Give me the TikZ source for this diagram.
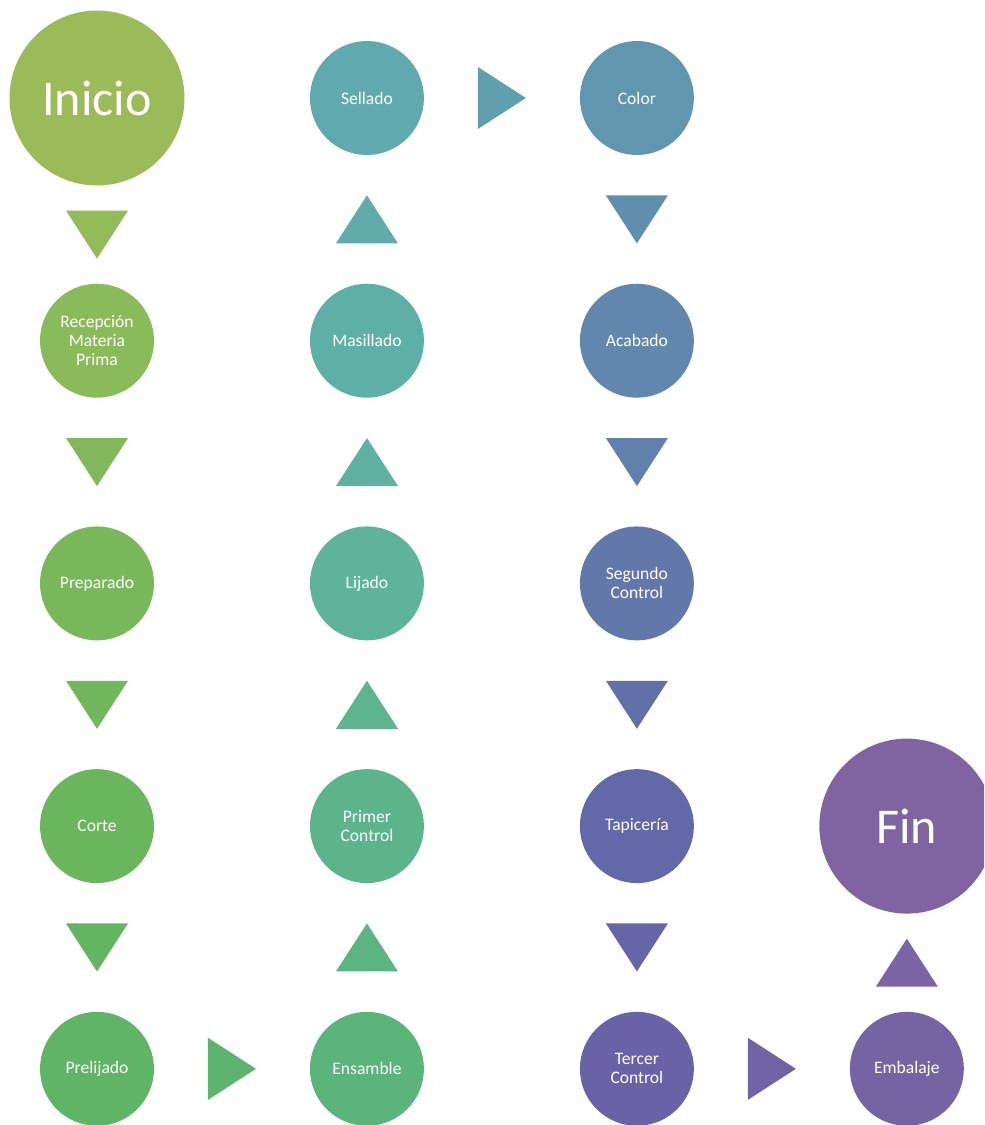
\documentclass[tikz,border=0pt]{standalone}
\usepackage{fontspec}
\setmainfont{Carlito}
\usepackage{xcolor}
\usetikzlibrary{positioning,calc}

\definecolor{cInicio}{HTML}{9BBB59}
\definecolor{cRecep}{HTML}{8ABB5A}
\definecolor{cPrep}{HTML}{79B85A}
\definecolor{cCorte}{HTML}{69B65C}
\definecolor{cPreli}{HTML}{5FB465}
\definecolor{cEnsam}{HTML}{5BB479}
\definecolor{cPrimer}{HTML}{5BB48A}
\definecolor{cLijado}{HTML}{5DB498}
\definecolor{cMasill}{HTML}{5EB0A6}
\definecolor{cSellado}{HTML}{60A9AE}
\definecolor{cColor}{HTML}{6097AE}
\definecolor{cAcabado}{HTML}{6187AC}
\definecolor{cSegundo}{HTML}{6278AA}
\definecolor{cTapic}{HTML}{6268A8}
\definecolor{cTercer}{HTML}{6A62A6}
\definecolor{cEmbal}{HTML}{7464A4}
\definecolor{cFin}{HTML}{8064A2}

\begin{document}
\begin{tikzpicture}[
        x=0.02cm, y=-0.02cm,
        node distance=4.855cm and 5.4cm, on grid,
        stage/.style={circle, inner sep=0pt, minimum size=2.28cm, text=white, align=center,
            font=\fontsize{10}{10.8}\selectfont},
        endpoint/.style={circle, inner sep=0pt, minimum size=3.5cm, text=white,
            font=\fontsize{28.5}{30}\selectfont},
        tridown/.pic={\path[pic actions] (-31,-24) -- (31,-24) -- (0,24) -- cycle;},
        triup/.pic={\path[pic actions] (-31,24) -- (31,24) -- (0,-24) -- cycle;},
        triright/.pic={\path[pic actions] (-24,-31) -- (-24,31) -- (24,0) -- cycle;}
    ]
        \useasboundingbox (0,0) rectangle (984,1125);
        \clip (0,0) rectangle (984,1125);

        % Nodes
        \node[endpoint, fill=cInicio] (inicio) at (97,98) {Inicio};
        \node[stage, fill=cRecep, below=of inicio] (recepcion) {Recepción\\Materia\\Prima};
        \node[stage, fill=cPrep, below=of recepcion] (preparado) {Preparado};
        \node[stage, fill=cCorte, below=of preparado] (corte) {Corte};
        \node[stage, fill=cPreli, below=of corte] (prelijado) {Prelijado};
        \node[stage, fill=cEnsam, right=of prelijado] (ensamble) {Ensamble};
        \node[stage, fill=cPrimer, above=of ensamble] (primer) {Primer\\Control};
        \node[stage, fill=cLijado, above=of primer] (lijado) {Lijado};
        \node[stage, fill=cMasill, above=of lijado] (masillado) {Masillado};
        \node[stage, fill=cSellado, above=of masillado] (sellado) {Sellado};
        \node[stage, fill=cColor, right=of sellado] (color) {Color};
        \node[stage, fill=cAcabado, below=of color] (acabado) {Acabado};
        \node[stage, fill=cSegundo, below=of acabado] (segundo) {Segundo\\Control};
        \node[stage, fill=cTapic, below=of segundo] (tapiceria) {Tapicería};
        \node[stage, fill=cTercer, below=of tapiceria] (tercer) {Tercer\\Control};
        \node[stage, fill=cEmbal, right=of tercer] (embalaje) {Embalaje};
        \node[endpoint, fill=cFin, above=of embalaje] (fin) {Fin};

        % Arrows
        \pic[fill={cInicio!50!cRecep}] at ($(inicio.south)!0.5!(recepcion.north)$) {tridown};
        \pic[fill={cRecep!50!cPrep}] at ($(recepcion.south)!0.5!(preparado.north)$) {tridown};
        \pic[fill={cPrep!50!cCorte}] at ($(preparado.south)!0.5!(corte.north)$) {tridown};
        \pic[fill={cCorte!50!cPreli}] at ($(corte.south)!0.5!(prelijado.north)$) {tridown};
        \pic[fill={cPreli!50!cEnsam}] at ($(prelijado.east)!0.5!(ensamble.west)$) {triright};
        \pic[fill={cEnsam!50!cPrimer}] at ($(ensamble.north)!0.5!(primer.south)$) {triup};
        \pic[fill={cPrimer!50!cLijado}] at ($(primer.north)!0.5!(lijado.south)$) {triup};
        \pic[fill={cLijado!50!cMasill}] at ($(lijado.north)!0.5!(masillado.south)$) {triup};
        \pic[fill={cMasill!50!cSellado}] at ($(masillado.north)!0.5!(sellado.south)$) {triup};
        \pic[fill={cSellado!50!cColor}] at ($(sellado.east)!0.5!(color.west)$) {triright};
        \pic[fill={cColor!50!cAcabado}] at ($(color.south)!0.5!(acabado.north)$) {tridown};
        \pic[fill={cAcabado!50!cSegundo}] at ($(acabado.south)!0.5!(segundo.north)$) {tridown};
        \pic[fill={cSegundo!50!cTapic}] at ($(segundo.south)!0.5!(tapiceria.north)$) {tridown};
        \pic[fill={cTapic!50!cTercer}] at ($(tapiceria.south)!0.5!(tercer.north)$) {tridown};
        \pic[fill={cTercer!50!cEmbal}] at ($(tercer.east)!0.5!(embalaje.west)$) {triright};
        \pic[fill={cEmbal!50!cFin}] at ($(embalaje.north)!0.5!(fin.south)$) {triup};

    \end{tikzpicture}
\end{document}
